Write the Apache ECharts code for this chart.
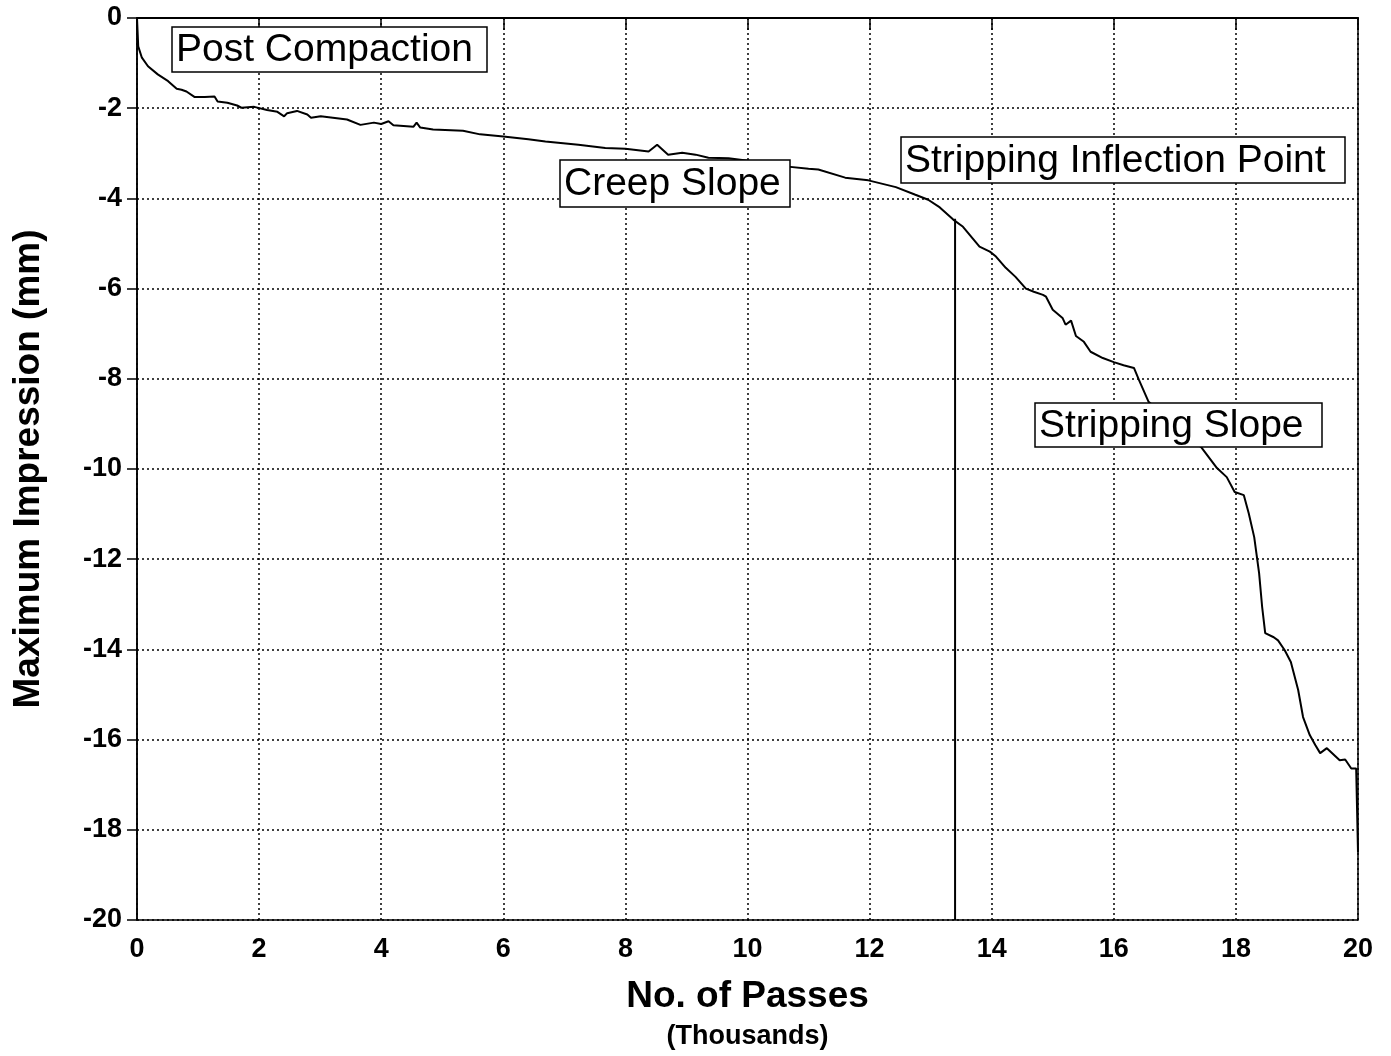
<!DOCTYPE html>
<html><head><meta charset="utf-8">
<script src="https://cdn.jsdelivr.net/npm/echarts@6/dist/echarts.min.js"></script>
<style>html,body{margin:0;padding:0;background:#fff}#c{width:1391px;height:1056px}</style>
</head><body><div id="c"></div>
<script>
const passes = [0,0.02,0.08,0.18,0.34,0.51,0.65,0.73,0.81,0.94,1.11,1.27,1.32,1.48,1.64,1.71,1.92,2.13,2.30,2.41,2.46,2.62,2.79,2.85,3.01,3.44,3.66,3.88,4.00,4.12,4.20,4.53,4.58,4.64,4.85,5.34,5.62,6.00,6.41,6.69,7.23,7.67,8.00,8.38,8.52,8.70,8.93,9.15,9.36,9.69,10.2,10.62,11.0,11.16,11.6,11.98,12.43,12.75,12.96,13.15,13.37,13.53,13.80,13.97,14.07,14.23,14.39,14.56,14.69,14.84,14.89,15.00,15.16,15.21,15.30,15.38,15.51,15.62,15.82,16.00,16.16,16.33,16.41,16.57,17.0,17.44,17.69,17.85,17.98,18.13,18.21,18.30,18.38,18.43,18.48,18.62,18.69,18.80,18.90,19.02,19.10,19.21,19.30,19.38,19.49,19.70,19.79,19.89,19.97,20.0];
const impression = [0,-0.63,-0.88,-1.07,-1.25,-1.40,-1.57,-1.59,-1.63,-1.75,-1.75,-1.74,-1.85,-1.88,-1.94,-1.99,-1.97,-2.04,-2.08,-2.18,-2.11,-2.06,-2.14,-2.21,-2.18,-2.25,-2.37,-2.32,-2.35,-2.29,-2.38,-2.41,-2.32,-2.43,-2.47,-2.50,-2.58,-2.63,-2.69,-2.74,-2.81,-2.88,-2.90,-2.96,-2.81,-3.03,-2.99,-3.03,-3.10,-3.11,-3.20,-3.29,-3.34,-3.36,-3.54,-3.60,-3.75,-3.92,-4.03,-4.20,-4.47,-4.63,-5.07,-5.18,-5.29,-5.54,-5.74,-6.00,-6.07,-6.14,-6.18,-6.47,-6.65,-6.80,-6.71,-7.05,-7.18,-7.40,-7.54,-7.63,-7.70,-7.76,-8.02,-8.51,-9.00,-9.53,-9.98,-10.18,-10.51,-10.58,-10.98,-11.51,-12.31,-13.06,-13.64,-13.73,-13.80,-14.02,-14.28,-14.90,-15.50,-15.90,-16.12,-16.30,-16.19,-16.46,-16.44,-16.64,-16.64,-18.5];
const inflectionX = [13.4, 13.4];
const inflectionY = [-4.45, -20];
const xTicks = [0,2,4,6,8,10,12,14,16,18,20];
const yTicks = [0,-2,-4,-6,-8,-10,-12,-14,-16,-18,-20];
const annotations = ["Post Compaction","Creep Slope","Stripping Inflection Point","Stripping Slope"];

const FONT = '"Liberation Sans", Arial, sans-serif';
const chart = echarts.init(document.getElementById('c'), null, {renderer:'canvas'});
function box(text, x, y, w, h) {
  return {type:'group', z:100, children:[
    {type:'rect', shape:{x:x, y:y, width:w, height:h}, style:{fill:'#fff', stroke:'#000', lineWidth:1.5}, z:100},
    {type:'text', x:x+4, y:y+h/2+1, style:{text:text, font:'39px ' + FONT, fill:'#000', textVerticalAlign:'middle', textAlign:'left'}, z:101}
  ]};
}
const option = {
  backgroundColor:'#fff',
  animation:false,
  grid:{left:137, right:33, top:18, bottom:136, show:true, borderColor:'#000', borderWidth:1.5,
    backgroundColor:'transparent', containLabel:false, outerBoundsMode:'none'},
  xAxis:{type:'value', min:0, max:20, interval:2,
    name:'No. of Passes\n{s|(Thousands)}', nameLocation:'middle', nameGap:57,
    nameTextStyle:{fontFamily:FONT, fontWeight:'bold', fontSize:37, color:'#000', lineHeight:40,
      rich:{s:{fontFamily:FONT, fontWeight:'bold', fontSize:27, color:'#000', lineHeight:40}}},
    axisLine:{lineStyle:{color:'#000', width:2}},
    axisTick:{show:true, length:12, lineStyle:{color:'#000', width:1.5}},
    axisLabel:{fontFamily:FONT, fontWeight:'bold', fontSize:27, color:'#000', margin:16,
      formatter:v => xTicks.includes(v) ? String(v) : ''},
    splitLine:{show:true, lineStyle:{color:'#000', type:[2,3], width:1.5}}
  },
  yAxis:{type:'value', min:-20, max:0, interval:2,
    name:'Maximum Impression (mm)', nameLocation:'middle', nameGap:90,
    nameTextStyle:{fontFamily:FONT, fontWeight:'bold', fontSize:37, color:'#000'},
    axisLine:{onZero:false, lineStyle:{color:'#000', width:1.5}},
    axisTick:{show:true, length:10, lineStyle:{color:'#000', width:1.5}},
    axisLabel:{fontFamily:FONT, fontWeight:'bold', fontSize:27, color:'#000', margin:15,
      formatter:v => yTicks.includes(v) ? String(v) : ''},
    splitLine:{show:true, lineStyle:{color:'#000', type:[2,3], width:1.5}}
  },
  series:[
    {type:'line', data:passes.map((x,i)=>[x, impression[i]]), showSymbol:false, symbol:'none',
      lineStyle:{color:'#000', width:2}, z:5},
    {type:'line', data:inflectionX.map((x,i)=>[x, inflectionY[i]]), showSymbol:false, symbol:'none',
      lineStyle:{color:'#000', width:2}, z:5}
  ],
  graphic:[
    box(annotations[0], 172, 27, 315, 45),
    box(annotations[1], 560, 160, 230, 47),
    box(annotations[2], 901, 137, 444, 46),
    box(annotations[3], 1035, 403, 287, 44)
  ]
};
chart.setOption(option);
</script></body></html>
